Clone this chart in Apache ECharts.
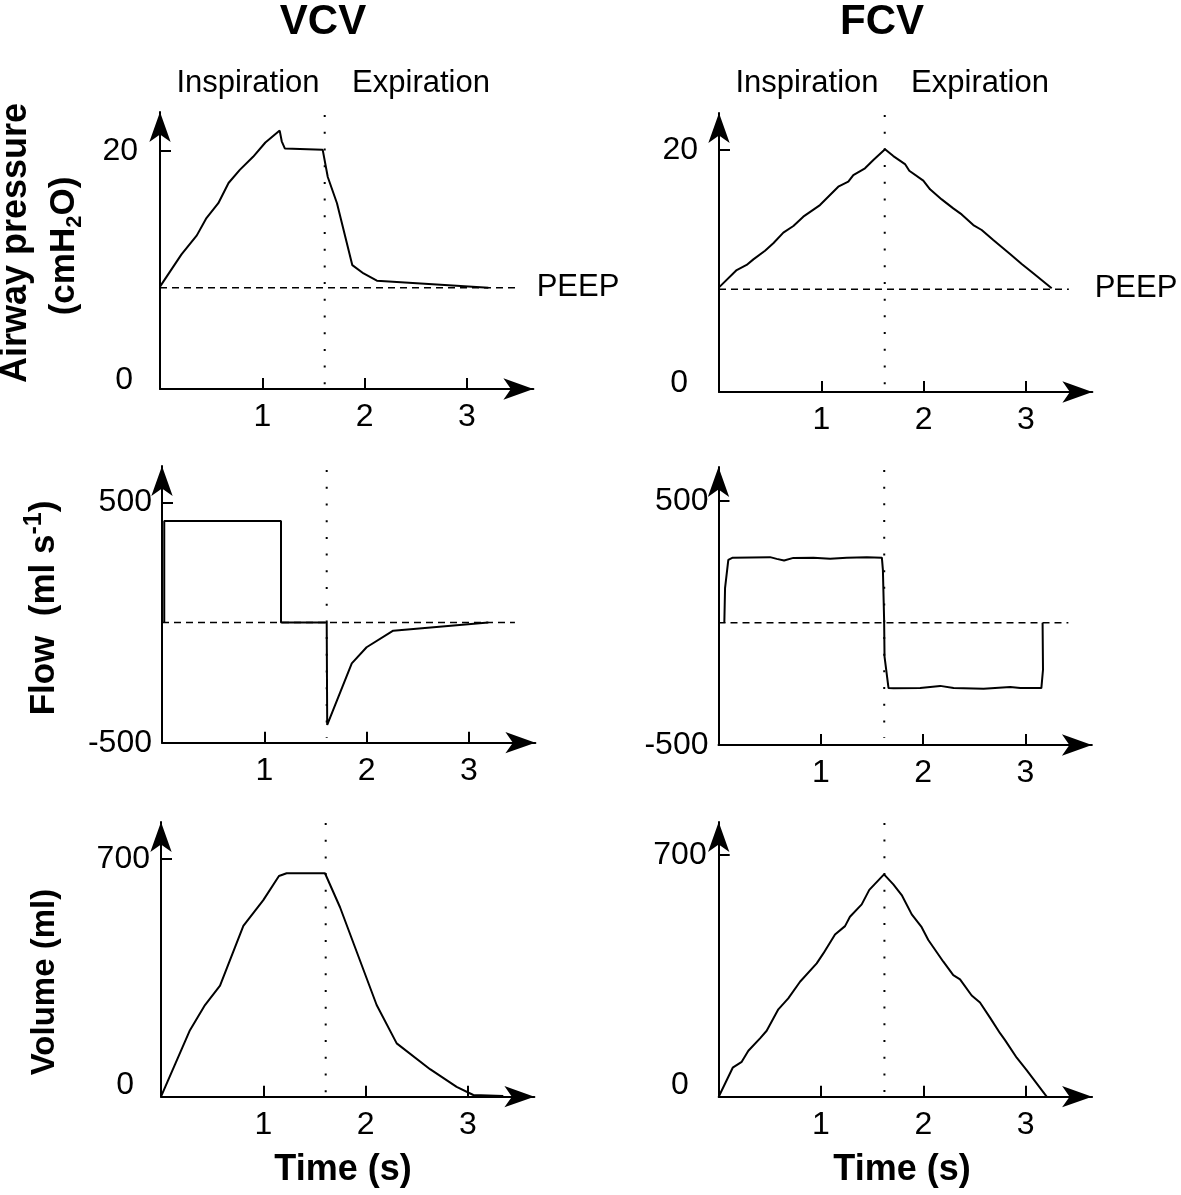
<!DOCTYPE html>
<html><head><meta charset="utf-8">
<script src="https://cdn.jsdelivr.net/npm/echarts@6/dist/echarts.min.js"></script>
<style>html,body{margin:0;padding:0;background:#fff}#c{width:1181px;height:1195px}</style>
</head><body><div id="c"></div>
<script>
// ---- data ----
const timeTicks = [1, 2, 3];
const pressureTicks = [0, 20];
const flowTicks = [-500, 500];
const volumeTicks = [0, 700];
const peep = 8.5;
const vcvSwitch = 1.61;
const fcvSwitch = 1.62;

const vcvPressure = [[0,8.6],[0.21,11.3],[0.36,12.9],[0.45,14.3],[0.57,15.6],[0.67,17.3],[0.78,18.4],[0.91,19.5],[1.03,20.7],[1.17,21.7],[1.19,20.8],[1.22,20.2],[1.59,20.1],[1.64,17.8],[1.73,15.6],[1.88,10.4],[1.99,9.7],[2.12,9.1],[3.21,8.5]];
const fcvPressure = [[0,8.65],[0.173,10.08],[0.27,10.5],[0.336,10.96],[0.45,11.68],[0.531,12.29],[0.629,13.17],[0.727,13.72],[0.824,14.49],[0.987,15.45],[1.166,16.97],[1.264,17.38],[1.313,17.93],[1.427,18.49],[1.509,19.17],[1.623,20.06],[1.704,19.5],[1.818,18.84],[1.86,18.29],[1.997,17.47],[2.063,16.75],[2.177,15.92],[2.29,15.18],[2.372,14.68],[2.486,13.8],[2.568,13.39],[2.681,12.56],[2.845,11.4],[2.959,10.58],[3.072,9.81],[3.252,8.57]];
const vcvFlow = [[0.022,0],[0.022,422],[1.163,422],[1.163,0],[1.61,0],[1.615,-426],[1.855,-170],[2.0,-103],[2.26,-34],[3.19,0]];
const fcvFlow = [[0.057,0],[0.064,142],[0.096,258],[0.139,267],[0.504,269],[0.569,262],[0.641,255],[0.732,266],[0.928,267],[1.091,262],[1.254,267],[1.45,269],[1.597,267],[1.607,217],[1.619,12],[1.623,-138],[1.662,-267],[1.71,-268],[1.972,-267],[2.167,-258],[2.298,-267],[2.591,-270],[2.852,-263],[2.95,-267],[3.156,-267],[3.172,-192],[3.168,0]];
const vcvVolume = [[0,0],[0.283,196],[0.43,270],[0.577,327],[0.805,503],[1.0,579],[1.153,650],[1.228,658],[1.603,658],[1.75,558],[2.108,270],[2.304,157],[2.63,81],[2.89,29],[3.053,5],[3.346,2]];
const fcvVolume = [[0,0],[0.137,84],[0.225,101],[0.29,133],[0.404,169],[0.469,191],[0.583,253],[0.68,285],[0.795,333],[0.958,386],[1.023,415],[1.137,470],[1.235,494],[1.283,521],[1.398,557],[1.472,599],[1.616,644],[1.707,615],[1.789,584],[1.887,528],[1.984,491],[2.049,454],[2.196,391],[2.293,352],[2.359,340],[2.473,293],[2.554,273],[2.652,229],[2.75,184],[2.799,164],[2.913,113],[3.01,77],[3.206,0]];

// reference line extents
const vcvPeepLine = [[0, peep], [3.47, peep]];
const fcvPeepLine = [[0, peep], [3.42, peep]];
const vcvZeroFlow = [[0, 0], [3.45, 0]];
const fcvZeroFlow = [[0, 0], [3.42, 0]];
const vcvDots = [[[vcvSwitch, 23], [vcvSwitch, 0]], [[vcvSwitch, 634], [vcvSwitch, -480]], [[vcvSwitch, 806], [vcvSwitch, 10]]];
const fcvDots = [[[fcvSwitch, 22.9], [fcvSwitch, 0]], [[fcvSwitch, 626], [fcvSwitch, -471]], [[fcvSwitch, 793], [fcvSwitch, 10]]];

// ---- layout ----
const FONT = 'Liberation Sans';
const panels = [
  {left:160,   top:112, height:277,   min:0,    max:23.26, ticks:pressureTicks, margin:22, zeroPad:[0,5,18,0]},
  {left:719,   top:113, height:279,   min:0,    max:23.06, ticks:pressureTicks, margin:21, zeroPad:[0,10,18,0]},
  {left:162,   top:466, height:276.7, min:-500, max:651,   ticks:flowTicks,     margin:10, zeroPad:[0,0,0,0]},
  {left:718.5, top:467, height:278,   min:-500, max:638,   ticks:flowTicks,     margin:10, zeroPad:[0,0,0,0]},
  {left:161,   top:822, height:274.7, min:0,    max:809,   ticks:volumeTicks,   margin:11, zeroPad:[0,16,24,0]},
  {left:718.7, top:822, height:274.7, min:0,    max:795.6, ticks:volumeTicks,   margin:12, zeroPad:[0,18,24,0]}
];
const XMAX = 3.65, W = XMAX * 102.3;

const grid = [], xAxis = [], yAxis = [], series = [];
const arrowLine = {show:true, onZero:false, symbol:['none','arrow'], symbolSize:[16,30], lineStyle:{color:'#000', width:2}};
panels.forEach((p, i) => {
  grid.push({left:p.left, top:p.top, width:W, height:p.height, containLabel:false});
  xAxis.push({
    type:'value', gridIndex:i, min:0, max:XMAX, position:'bottom',
    axisLine: arrowLine,
    axisTick:{show:true, inside:true, length:11, customValues:timeTicks, lineStyle:{color:'#000', width:2}},
    axisLabel:{show:true, customValues:timeTicks, margin:12, color:'#000', fontSize:32, fontFamily:FONT},
    splitLine:{show:false}
  });
  const zp = p.zeroPad;
  yAxis.push({
    type:'value', gridIndex:i, min:p.min, max:p.max, position:'left',
    axisLine: arrowLine,
    axisTick:{show:true, inside:true, length:11, customValues:[p.ticks[1]], lineStyle:{color:'#000', width:2}},
    axisLabel:{show:true, customValues:p.ticks, margin:p.margin, color:'#000', fontSize:32, fontFamily:FONT,
      formatter: v => v === 0 ? '{z|0}' : String(v),
      rich:{z:{fontSize:32, fontFamily:FONT, color:'#000', padding:zp}}},
    splitLine:{show:false}
  });
});

function line(idx, data, style, extra) {
  return Object.assign({type:'line', xAxisIndex:idx, yAxisIndex:idx, data:data, symbol:'none', showSymbol:false,
    silent:true, animation:false, lineStyle:Object.assign({color:'#000', width:2}, style)}, extra || {});
}
const dashed = {width:1.5, type:[7,5]};
const dotted = {width:2, type:[2,14.7]};
// references
series.push(line(0, vcvPeepLine, dashed));
series.push(line(1, fcvPeepLine, dashed));
series.push(line(2, vcvZeroFlow, dashed));
series.push(line(3, fcvZeroFlow, dashed));
[0,2,4].forEach((pi, k) => series.push(line(pi, vcvDots[k], dotted, {clip:false})));
[1,3,5].forEach((pi, k) => series.push(line(pi, fcvDots[k], dotted, {clip:false})));
// curves
series.push(line(0, vcvPressure, {}, {clip:false}));
series.push(line(1, fcvPressure, {}, {clip:false}));
series.push(line(2, vcvFlow, {}, {clip:false}));
series.push(line(3, fcvFlow, {}, {clip:false}));
series.push(line(4, vcvVolume, {}, {clip:false}));
series.push(line(5, fcvVolume, {}, {clip:false}));

function txt(x, y, text, size, bold, extra) {
  return Object.assign({type:'text', x:x, y:y, silent:true,
    style:{text:text, fontSize:size, fontWeight:bold ? 'bold' : 'normal', fontFamily:FONT, fill:'#000', align:'center', verticalAlign:'middle'}}, extra || {});
}
const graphic = [
  txt(323, 22, 'VCV', 42, true),
  txt(882, 22, 'FCV', 42, true),
  txt(248, 83, 'Inspiration', 31, false),
  txt(421, 83, 'Expiration', 31, false),
  txt(807, 83, 'Inspiration', 31, false),
  txt(980, 83, 'Expiration', 31, false),
  txt(578, 287, 'PEEP', 31, false),
  txt(1136, 288, 'PEEP', 31, false),
  txt(343, 1170, 'Time (s)', 36, true),
  txt(902, 1170, 'Time (s)', 36, true),
  txt(16, 243, 'Airway pressure', 36, true, {rotation:Math.PI/2}),
  {type:'text', x:64, y:246, rotation:Math.PI/2, silent:true,
   style:{text:'{m|(cmH}{s|2}{m|O)}', align:'center', verticalAlign:'middle', fill:'#000',
     rich:{m:{fontSize:35, fontWeight:'bold', fontFamily:FONT, lineHeight:44},
           s:{fontSize:22, fontWeight:'bold', fontFamily:FONT, lineHeight:14, verticalAlign:'bottom'}}}},
  {type:'text', x:44, y:608, rotation:Math.PI/2, silent:true,
   style:{text:'{m|Flow  (ml s}{s|-1}{m|)}', align:'center', verticalAlign:'middle', fill:'#000',
     rich:{m:{fontSize:35, fontWeight:'bold', fontFamily:FONT, lineHeight:44},
           s:{fontSize:25, fontWeight:'bold', fontFamily:FONT, lineHeight:18, verticalAlign:'top'}}}},
  txt(45, 982, 'Volume (ml)', 33, true, {rotation:Math.PI/2})
];

const chart = echarts.init(document.getElementById('c'), null, {renderer:'canvas'});
chart.setOption({backgroundColor:'#fff', animation:false, grid, xAxis, yAxis, series, graphic});
</script></body></html>
